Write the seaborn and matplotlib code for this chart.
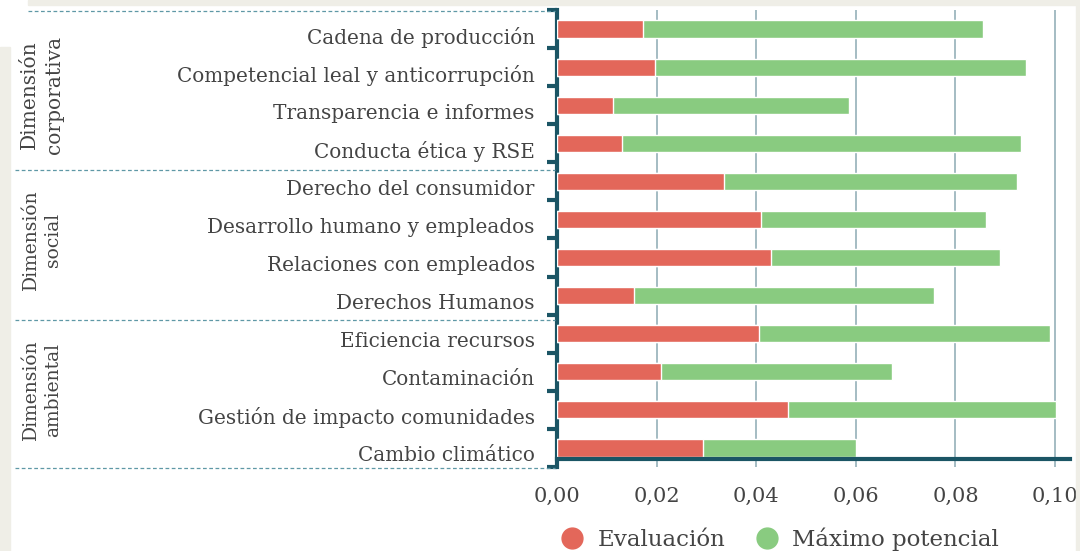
import matplotlib
matplotlib.use("Agg")
import matplotlib.pyplot as plt
from matplotlib.lines import Line2D
from matplotlib.patches import Rectangle
from matplotlib.ticker import FuncFormatter, FixedLocator
from matplotlib.transforms import ScaledTranslation
import seaborn as sns
import pandas as pd

sns.set_theme(style="white")
plt.rcParams['font.family'] = ['DejaVu Serif', 'DejaVu Sans']

categorias = ["Cadena de producción", "Competencial leal y anticorrupción",
              "Transparencia e informes", "Conducta ética y RSE",
              "Derecho del consumidor", "Desarrollo humano y empleados",
              "Relaciones con empleados", "Derechos Humanos",
              "Eficiencia recursos", "Contaminación",
              "Gestión de impacto comunidades", "Cambio climático"]
evaluacion = [0.0173, 0.0197, 0.0112, 0.0131, 0.0335, 0.0410,
              0.0430, 0.0155, 0.0406, 0.0209, 0.0464, 0.0293]
maximo = [0.0855, 0.0942, 0.0586, 0.0932, 0.0924, 0.0861,
          0.0890, 0.0757, 0.0990, 0.0673, 0.1002, 0.0600]
grupos = ["Dimensión\ncorporativa", "Dimensión\nsocial", "Dimensión\nambiental"]

df = pd.DataFrame({"cat": categorias, "eval": evaluacion, "max": maximo})

ROJO = "#e3675a"
VERDE = "#89cb80"
TEAL = "#1b5565"
TXT = "#444444"

fig = plt.figure(figsize=(10.8, 5.51), dpi=100)
W, H = 1080, 551

# restos de fondo beige de la captura
for x0, y0, w, h in [(28, 0, 1052, 5), (0, 47, 10, 504), (1076, 0, 4, 551)]:
    fig.patches.append(Rectangle((x0 / W, 1 - (y0 + h) / H), w / W, h / H,
                                 transform=fig.transFigure, color="#efeee7", zorder=0))

ax = fig.add_axes([557 / W, 1 - 467 / H, 513 / W, 457 / H])
ax.set_facecolor("none")

sns.barplot(data=df, y="cat", x="max", color=VERDE, width=0.45, ax=ax,
            orient="h", saturation=1, zorder=3)
sns.barplot(data=df, y="cat", x="eval", color=ROJO, width=0.45, ax=ax,
            orient="h", saturation=1, zorder=4)

ax.set_xlim(0, 0.103)
ax.set_ylim(11.5, -0.5)
ax.set_xlabel("")
ax.set_ylabel("")

ax.xaxis.set_major_locator(FixedLocator([0, 0.02, 0.04, 0.06, 0.08, 0.10]))
ax.xaxis.set_major_formatter(FuncFormatter(lambda v, p: f"{v:.2f}".replace(".", ",")))
ax.grid(axis="x", color="#9db6be", lw=1.3, zorder=1)
ax.grid(axis="y", visible=False)

for s in ["top", "right"]:
    ax.spines[s].set_visible(False)
ax.spines["left"].set_color(TEAL)
ax.spines["left"].set_linewidth(3)
ax.spines["bottom"].set_color(TEAL)
ax.spines["bottom"].set_linewidth(3)
ax.spines["bottom"].set_position(("data", 11.29))
ax.spines["bottom"].set_zorder(5)

ax.set_yticks([i + 0.5 for i in range(-1, 12)], minor=True)
ax.tick_params(axis="y", which="major", length=0, pad=16, labelsize=14.4, labelcolor=TXT)
ax.tick_params(axis="y", which="minor", length=7, width=3, color=TEAL, left=True,
               direction="out")
ax.tick_params(axis="x", which="major", length=0, pad=20, labelsize=15, labelcolor=TXT)

# las etiquetas quedan algo por debajo del centro de la barra
bajar = ScaledTranslation(0, -0.06, fig.dpi_scale_trans)
for lbl in ax.get_yticklabels():
    lbl.set_transform(lbl.get_transform() + bajar)

# separadores punteados
for y, x0 in [(11, 28), (170, 15), (320, 15), (468, 15)]:
    fig.lines.append(Line2D([x0 / W, 555 / W], [1 - y / H, 1 - y / H],
                            transform=fig.transFigure, color="#5f98a6",
                            lw=0.9, ls=(0, (3, 2))))

# etiquetas de grupo
for txt, yc, fs in zip(grupos, [95, 240, 390], [14.5, 13.5, 13.5]):
    fig.text(42 / W, 1 - yc / H, txt, rotation=90, ha="center", va="center",
             multialignment="center", fontsize=fs, color=TXT, linespacing=1.35)

handles = [Line2D([], [], marker="o", ls="", color=ROJO, markersize=15),
           Line2D([], [], marker="o", ls="", color=VERDE, markersize=15)]
fig.legend(handles, ["Evaluación", "Máximo potencial"], loc="center",
           bbox_to_anchor=(774 / W, 1 - 539 / H), ncol=2, frameon=False,
           fontsize=16.5, labelcolor=TXT, handletextpad=0.1, columnspacing=0.8)

fig.savefig("out.png", dpi=100, facecolor="white")
